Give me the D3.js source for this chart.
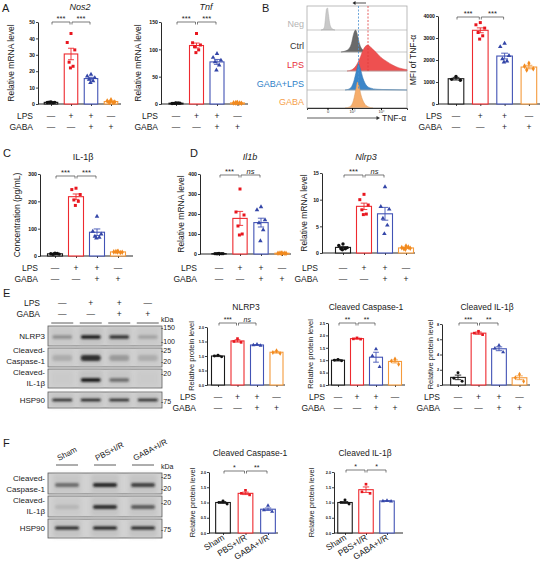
<!DOCTYPE html>
<html><head><meta charset="utf-8">
<script src="https://cdn.jsdelivr.net/npm/d3@7"></script>
<style>body{margin:0;background:#fff}svg{display:block}text{font-family:"Liberation Sans",Arial,sans-serif}</style>
</head><body><svg id="c" width="546" height="565"></svg>
<script>
// ---------------- DATA ----------------
const lpsRow = ["—","+","+","—"];
const gabaRow = ["—","—","+","+"];
const groupColors = ["#1a1a1a","#ee2a2f","#4253b5","#f59b3c"];
const pointColors = ["#111111","#e8161e","#3446a8","#f28a1e"];
const fGroups = ["Sham","PBS+I/R","GABA+I/R"];

const nos2Means = [1.0, 30.5, 15.5, 1.5];
const nos2Sem = [0.1, 3.5, 0.8, 0.3];
const nos2Pts = [[1.2,0.9,1.0,1.1,0.8,1.0],[43,37.5,33,25.5,23,22],[18,17,16,15,14,13],[2.5,1.8,1.2,1.0,0.9,1.5]];
const nos2Ticks = [0,10,20,30,40,50];

const tnfMeans = [1.5, 107, 77, 2];
const tnfSem = [0.3, 4.5, 4.5, 0.3];
const tnfPts = [[2,1,1.5,1.2,1.8,1.5],[129,112,108,105,99,94],[92,85,80,77,71,62],[2.5,2,1.5,2,1.8,2.2]];
const tnfTicks = [0,50,100,150];

const mfiMeans = [1150, 3350, 2180, 1680];
const mfiSem = [60, 110, 130, 80];
const mfiPts = [[1250,1120,1080],[3700,3600,3450,3250,3100,2950],[2750,2600,2200,2050,1950,1900],[1850,1720,1600,1550]];
const mfiTicks = [0,1000,2000,3000,4000];

const il1bConcMeans = [8, 217, 87, 15];
const il1bConcSem = [2, 10, 12, 1];
const il1bConcPts = [[10,8,7,6,9,8],[248,243,225,205,200,185],[145,90,80,72,68,65],[17,15,14,16,13,15]];
const il1bConcTicks = [0,100,200,300];

const il1bMeans = [2, 178, 157, 4];
const il1bSem = [0.5, 35, 22, 1];
const il1bPts = [[3,2,2,1,2,2],[325,210,195,140,100,95],[235,220,170,155,120,65],[5,4,3,5,4,3]];
const il1bTicks = [0,100,200,300,400];

const nlrp3Means = [1.05, 8.75, 7.35, 0.95];
const nlrp3Sem = [0.15, 0.6, 1.2, 0.1];
const nlrp3Pts = [[1.7,1.4,1.0,0.8,0.8,0.6],[11,10,9,8.1,7.3,7.2],[12.4,8.7,8.2,6.5,5.2,3.6],[1.3,1,0.9,0.8,1.1,0.7]];
const nlrp3Ticks = [0,5,10,15];

const eNlrpMeans = [1.0, 1.52, 1.38, 1.13];
const eNlrpSem = [0.02, 0.04, 0.01, 0.03];
const eNlrpPts = [[1.03,1.0,0.97],[1.6,1.5,1.47],[1.4,1.38,1.36],[1.18,1.12,1.09]];
const eNlrpTicks = [0,0.5,1,1.5,2];

const eCaspMeans = [1.0, 1.87, 1.12, 0.95];
const eCaspSem = [0.03, 0.02, 0.2, 0.06];
const eCaspPts = [[1.03,1.0,0.98],[1.9,1.86,1.85],[1.45,1.18,0.73],[1.05,0.97,0.84]];
const eCaspTicks = [0,0.5,1,1.5,2,2.5];

const eIl1bMeans = [1.0, 6.8, 4.75, 0.95];
const eIl1bSem = [0.3, 0.15, 0.25, 0.25];
const eIl1bPts = [[1.6,0.9,0.5],[7.05,6.8,6.6],[5.2,4.8,4.3],[1.4,0.95,0.5]];
const eIl1bTicks = [0,2,4,6,8];

const fCaspMeans = [1.0, 1.3, 0.78];
const fCaspSem = [0.03, 0.04, 0.04];
const fCaspPts = [[1.05,1.0,0.95],[1.4,1.3,1.25],[0.9,0.75,0.7]];
const fIl1bMeans = [1.0, 1.42, 1.05];
const fIl1bSem = [0.03, 0.09, 0.01];
const fIl1bPts = [[1.08,1.0,0.95],[1.6,1.35,1.3],[1.06,1.05,1.04]];
const fTicks = [0,0.5,1,1.5,2];

// western blot band intensities (0-1)
const eLanes = ["L1","L2","L3","L4"];
const eNlrpBand = [0.3, 0.95, 0.8, 0.2];
const eCaspBand = [0.15, 0.85, 0.25, 0.15];
const eIl1bBand = [0.0, 1.0, 0.5, 0.0];
const eHspBand = [0.9, 0.95, 0.9, 0.9];
const fLanes = ["L1","L2","L3"];
const fCaspBand = [0.5, 0.9, 0.75];
const fIl1bBand = [0.1, 0.85, 0.6];
const fHspBand = [0.9, 0.95, 0.9];

// flow histograms: [TNF-α display unit, relative count]
const histNames = ["Neg","Ctrl","LPS","GABA+LPS","GABA"];
const histColors = ["#c9c9c9","#6a6a6a","#ee5050","#3b86c9","#f6ad6b"];
const histLabelColors = ["#b5b5b5","#333333","#e8303a","#2f7fc8","#f5a04a"];
const histNeg = [[14,0],[16,0.03],[17.5,0.15],[18.5,0.55],[19.5,0.95],[20.5,1],[21.5,0.7],[22.5,0.35],[24,0.12],[26,0.03],[28,0]];
const histCtrl = [[34,0],[38,0.04],[42,0.15],[44.5,0.4],[46.5,0.8],[48.5,1],[50,0.85],[52,0.45],[54,0.2],[57,0.06],[62,0]];
const histLps = [[40,0],[45,0.05],[49,0.2],[53,0.5],[56,0.8],[59,0.97],[61,1],[64,0.9],[69,0.72],[74,0.52],[80,0.36],[86,0.22],[92,0.12],[100,0.05]];
const histGabaLps = [[38,0],[43,0.06],[46.5,0.3],[49.5,0.75],[51.5,1],[53.5,0.8],[56,0.45],[59,0.2],[63,0.08],[70,0.03],[80,0.015],[100,0]];
const histGaba = [[38,0],[43,0.05],[46.5,0.3],[49,0.75],[50.5,1],[52,0.85],[54,0.5],[57,0.2],[61,0.05],[66,0]];
const histTickLabels = ["0","10³","10⁴"];
const histTickUnits = [20.5, 45, 74];
const histMedians = [51.5, 61];

// ---------------- DRAWING ----------------
const svg = d3.select("#c");
const defs = svg.append("defs");
defs.append("filter").attr("id","blur").attr("x","-50%").attr("y","-100%").attr("width","200%").attr("height","300%")
  .append("feGaussianBlur").attr("stdDeviation",1.1);
defs.append("filter").attr("id","blur2").attr("x","-50%").attr("y","-100%").attr("width","200%").attr("height","300%")
  .append("feGaussianBlur").attr("stdDeviation",2.2);

function txt(g, x, y, s, o = {}) {
  const t = g.append("text").attr("x", x).attr("y", y).text(s)
    .attr("font-size", o.size || 9).attr("text-anchor", o.anchor || "start")
    .attr("fill", o.fill || "#1a1a1a");
  if (o.italic) t.attr("font-style", "italic");
  if (o.weight) t.attr("font-weight", o.weight);
  if (o.rotate != null) t.attr("transform", `rotate(${o.rotate},${x},${y})`);
  return t;
}

const symbols = [d3.symbolCircle, d3.symbolSquare, d3.symbolTriangle, d3.symbolDiamond];
const jitterPattern = [0, -1, 1, -0.5, 0.55, -0.15, 0.3];

function barChart(L, D) {
  const n = D.means.length;
  const y = d3.scaleLinear().domain([0, D.ticks[D.ticks.length - 1]]).range([L.y0, L.yTop]);
  const x = d3.scaleLinear().domain([0, n - 1]).range([L.c0, L.c0 + L.step * (n - 1)]);
  const g = svg.append("g");
  const ya = g.append("g").attr("transform", `translate(${L.ax},0)`)
    .call(d3.axisLeft(y).tickValues(D.ticks).tickFormat(D.fmt).tickSize(2).tickSizeOuter(0).tickPadding(1));
  ya.select(".domain").attr("stroke", "#111").attr("stroke-width", 0.9);
  ya.selectAll(".tick line").attr("stroke", "#111").attr("stroke-width", 0.8);
  ya.selectAll("text").attr("font-size", L.tick).attr("font-weight", "bold").attr("fill", "#111")
    .attr("font-family", "Liberation Sans, Arial, sans-serif");
  g.append("line").attr("x1", L.ax).attr("x2", L.axEnd).attr("y1", L.y0).attr("y2", L.y0).attr("stroke", "#111").attr("stroke-width", 0.9);
  const xa = g.append("g").attr("transform", `translate(0,${L.y0})`)
    .call(d3.axisBottom(x).tickValues(d3.range(n)).tickSize(2).tickFormat(""));
  xa.select(".domain").remove();
  xa.selectAll(".tick line").attr("stroke", "#111").attr("stroke-width", 0.8);
  // bars
  g.selectAll("rect.bar").data(D.means).join("rect").attr("class", "bar")
    .attr("x", (d, i) => x(i) - L.bw / 2).attr("y", d => y(d)).attr("width", L.bw)
    .attr("height", d => L.y0 - y(d)).attr("fill", "white")
    .attr("stroke", (d, i) => groupColors[i]).attr("stroke-width", 1.1);
  // error bars
  D.means.forEach((m, i) => {
    const s = D.sem[i], cw = L.bw * 0.22;
    const eg = g.append("g").attr("stroke", groupColors[i]).attr("stroke-width", 0.9);
    eg.append("line").attr("x1", x(i)).attr("x2", x(i)).attr("y1", y(m - s)).attr("y2", y(m + s));
    eg.append("line").attr("x1", x(i) - cw).attr("x2", x(i) + cw).attr("y1", y(m + s)).attr("y2", y(m + s));
    eg.append("line").attr("x1", x(i) - cw).attr("x2", x(i) + cw).attr("y1", y(m - s)).attr("y2", y(m - s));
  });
  // points
  D.pts.forEach((arr, i) => {
    arr.forEach((v, j) => {
      const dx = jitterPattern[j % jitterPattern.length] * L.bw * 0.28;
      g.append("path").attr("d", d3.symbol().type(symbols[i]).size(L.sym)())
        .attr("transform", `translate(${x(i) + dx},${y(v)})`).attr("fill", pointColors[i]);
    });
  });
  // significance
  (D.sig || []).forEach(([a, b, lab]) => {
    const x1 = x(a) + 1, x2 = x(b) - 1, by = L.by;
    g.append("path").attr("d", `M${x1},${by + 2.5}V${by}H${x2}V${by + 2.5}`)
      .attr("fill", "none").attr("stroke", "#444").attr("stroke-width", 0.7);
    txt(g, (x1 + x2) / 2, by - 1.2, lab, { size: L.star, anchor: "middle", italic: lab === "ns", fill: "#222" });
  });
  if (D.title) txt(g, L.tx, L.ty, D.title, { size: L.tsize, anchor: "middle", italic: D.italic });
  txt(g, L.ylx, (L.y0 + L.yTop) / 2, D.ylabel, { size: L.ysize, anchor: "middle", rotate: -90 });
  if (D.rows) {
    txt(g, L.rlx, L.r1, "LPS", { size: L.rsize, anchor: "end" });
    txt(g, L.rlx, L.r2, "GABA", { size: L.rsize, anchor: "end" });
    lpsRow.forEach((s, i) => txt(g, x(i), L.r1, s, { size: L.rsize, anchor: "middle" }));
    gabaRow.forEach((s, i) => txt(g, x(i), L.r2, s, { size: L.rsize, anchor: "middle" }));
  } else if (D.xcats) {
    D.xcats.forEach((s, i) => txt(g, x(i) + 2, L.y0 + 6, s, { size: L.rsize, anchor: "end", rotate: -32 }));
  }
}

const f1 = d3.format("d"), f2 = d3.format(".1f");

// Panel letters
[["A",2,12],["B",262,12],["C",3,157],["D",190,157],["E",3,297],["F",3,447]].forEach(([s,x,y]) => txt(svg, x, y, s, { size: 11 }));

const std = { tick: 5.2, sym: 9, star: 7.5, tsize: 9, ysize: 8.5, rsize: 8.5 };
barChart({ ...std, ax: 38, y0: 104, yTop: 22, c0: 51, step: 20, bw: 13.5, axEnd: 121, by: 22, tx: 80, ty: 10, ylx: 14, rlx: 33, r1: 119, r2: 130 },
  { means: nos2Means, sem: nos2Sem, pts: nos2Pts, ticks: nos2Ticks, fmt: f1, sig: [[0,1,"***"],[1,2,"***"]], title: "Nos2", italic: true, ylabel: "Relative mRNA level", rows: true });
barChart({ ...std, ax: 161, y0: 104, yTop: 22, c0: 176, step: 20.5, bw: 14, axEnd: 248, by: 22, tx: 206, ty: 10, ylx: 141, rlx: 158, r1: 119, r2: 130 },
  { means: tnfMeans, sem: tnfSem, pts: tnfPts, ticks: tnfTicks, fmt: f1, sig: [[0,1,"***"],[1,2,"***"]], title: "Tnf", italic: true, ylabel: "Relative mRNA level", rows: true });
barChart({ ...std, ax: 438, y0: 104, yTop: 16, c0: 456, step: 24.3, bw: 15.6, axEnd: 540, by: 17, ylx: 416, rlx: 442, r1: 119, r2: 130 },
  { means: mfiMeans, sem: mfiSem, pts: mfiPts, ticks: mfiTicks, fmt: f1, sig: [[0,1,"***"],[1,2,"***"]], ylabel: "MFI of TNF-α", rows: true });
barChart({ ...std, ax: 40, y0: 256, yTop: 174, c0: 55, step: 21, bw: 15, axEnd: 133, by: 176, tx: 83, ty: 160, ylx: 20, rlx: 38, r1: 271, r2: 282 },
  { means: il1bConcMeans, sem: il1bConcSem, pts: il1bConcPts, ticks: il1bConcTicks, fmt: f1, sig: [[0,1,"***"],[1,2,"***"]], title: "IL-1β", ylabel: "Concentration (pg/mL)", rows: true });
barChart({ ...std, ax: 200, y0: 254, yTop: 174, c0: 219, step: 21, bw: 14.3, axEnd: 291, by: 175, tx: 250, ty: 160, ylx: 184, rlx: 197, r1: 271, r2: 282 },
  { means: il1bMeans, sem: il1bSem, pts: il1bPts, ticks: il1bTicks, fmt: f1, sig: [[0,1,"***"],[1,2,"ns"]], title: "Il1b", italic: true, ylabel: "Relative mRNA level", rows: true });
barChart({ ...std, ax: 322, y0: 253, yTop: 173, c0: 343, step: 21, bw: 15, axEnd: 415, by: 175, tx: 366, ty: 160, ylx: 307, rlx: 318, r1: 271, r2: 282 },
  { means: nlrp3Means, sem: nlrp3Sem, pts: nlrp3Pts, ticks: nlrp3Ticks, fmt: f1, sig: [[0,1,"***"],[1,2,"ns"]], title: "Nlrp3", italic: true, ylabel: "Relative mRNA level", rows: true });

const sm = { tick: 3.8, sym: 7, star: 7, tsize: 8.5, ysize: 7.5, rsize: 8.5 };
barChart({ ...sm, ax: 207, y0: 385, yTop: 327, c0: 218, step: 19.5, bw: 13, axEnd: 285, by: 323, tx: 246, ty: 310, ylx: 194, rlx: 196, r1: 400, r2: 411 },
  { means: eNlrpMeans, sem: eNlrpSem, pts: eNlrpPts, ticks: eNlrpTicks, fmt: f2, sig: [[0,1,"***"],[1,2,"ns"]], title: "NLRP3", ylabel: "Relative protein level", rows: true });
barChart({ ...sm, ax: 328, y0: 385, yTop: 323, c0: 338, step: 19, bw: 13, axEnd: 405, by: 323, tx: 366, ty: 310, ylx: 313, rlx: 325, r1: 400, r2: 411 },
  { means: eCaspMeans, sem: eCaspSem, pts: eCaspPts, ticks: eCaspTicks, fmt: f2, sig: [[0,1,"**"],[1,2,"**"]], title: "Cleaved Caspase-1", ylabel: "Relative protein level", rows: true });
barChart({ ...sm, ax: 442, y0: 385, yTop: 324, c0: 458, step: 20.5, bw: 14.7, axEnd: 530, by: 323, tx: 487, ty: 310, ylx: 433, rlx: 440, r1: 400, r2: 411 },
  { means: eIl1bMeans, sem: eIl1bSem, pts: eIl1bPts, ticks: eIl1bTicks, fmt: f1, sig: [[0,1,"***"],[1,2,"**"]], title: "Cleaved IL-1β", ylabel: "Relative protein level", rows: true });
barChart({ ...sm, ax: 209, y0: 533, yTop: 472, c0: 223, step: 22.5, bw: 14.7, axEnd: 278, by: 471, tx: 250, ty: 456, ylx: 195, rsize: 8.5 },
  { means: fCaspMeans, sem: fCaspSem, pts: fCaspPts, ticks: fTicks, fmt: f2, sig: [[0,1,"*"],[1,2,"**"]], title: "Cleaved Caspase-1", ylabel: "Relative protein level", xcats: fGroups });
barChart({ ...sm, ax: 334, y0: 533, yTop: 472, c0: 345, step: 21, bw: 14.5, axEnd: 403, by: 470, tx: 365, ty: 456, ylx: 314, rsize: 8.5 },
  { means: fIl1bMeans, sem: fIl1bSem, pts: fIl1bPts, ticks: fTicks, fmt: f2, sig: [[0,1,"*"],[1,2,"*"]], title: "Cleaved IL-1β", ylabel: "Relative protein level", xcats: fGroups });

// ---------------- WESTERN BLOTS ----------------
function blotRow(g, lanes, x0, x1, yT, yB, bandY, intens, bw, bh) {
  const lx = d3.scalePoint().domain(lanes).range([x0, x1]).padding(0.5);
  g.append("rect").attr("x", x0).attr("y", yT).attr("width", x1 - x0).attr("height", yB - yT)
    .attr("fill", "#d2d2d2").attr("stroke", "#5a5a5a").attr("stroke-width", 0.8);
  lanes.forEach((ln, i) => {
    g.append("rect").attr("x", lx(ln) - bw / 2 - 2).attr("y", yT + 1).attr("width", bw + 4).attr("height", yB - yT - 2)
      .attr("fill", "#bdbdbd").attr("opacity", 0.35 + 0.4 * intens[i]).attr("filter", "url(#blur2)");
    g.append("rect").attr("x", lx(ln) - bw / 2).attr("y", bandY - bh / 2).attr("width", bw).attr("height", bh)
      .attr("rx", bh / 2).attr("fill", "#141414").attr("opacity", intens[i]).attr("filter", "url(#blur)");
  });
  return lx;
}
const eb = svg.append("g");
const eX0 = 48, eX1 = 162;
let elx = blotRow(eb, eLanes, eX0, eX1, 326, 346, 337, eNlrpBand, 20, 3.5);
blotRow(eb, eLanes, eX0, eX1, 348, 367, 358, eCaspBand, 20, 6);
blotRow(eb, eLanes, eX0, eX1, 369, 388, 380, eIl1bBand, 20, 3.5);
blotRow(eb, eLanes, eX0, eX1, 392, 408, 400, eHspBand, 20, 2.5);
txt(eb, 40, 306, "LPS", { size: 8.5, anchor: "end" });
txt(eb, 40, 317, "GABA", { size: 8.5, anchor: "end" });
eLanes.forEach((ln, i) => {
  txt(eb, elx(ln), 306, lpsRow[i], { size: 8.5, anchor: "middle" });
  txt(eb, elx(ln), 317, gabaRow[i], { size: 8.5, anchor: "middle" });
  eb.append("line").attr("x1", elx(ln) - 11).attr("x2", elx(ln) + 11).attr("y1", 323).attr("y2", 323).attr("stroke", "#333").attr("stroke-width", 0.8);
});
txt(eb, 45, 339, "NLRP3", { size: 8, anchor: "end" });
txt(eb, 45, 353, "Cleaved-", { size: 8, anchor: "end" });
txt(eb, 45, 364, "Caspase-1", { size: 8, anchor: "end" });
txt(eb, 45, 375, "Cleaved-", { size: 8, anchor: "end" });
txt(eb, 45, 386, "IL-1β", { size: 8, anchor: "end" });
txt(eb, 45, 403, "HSP90", { size: 8, anchor: "end" });
txt(eb, 161, 322, "kDa", { size: 7 });
[["-150",330],["-100",344],["-25",353],["-20",364],["-20",376],["-75",404]].forEach(([s, y]) => txt(eb, 161, y, s, { size: 7 }));

const fb = svg.append("g");
const fX0 = 48, fX1 = 162;
let flx = blotRow(fb, fLanes, fX0, fX1, 473, 494, 485, fCaspBand, 24, 4);
blotRow(fb, fLanes, fX0, fX1, 496, 517, 507, fIl1bBand, 24, 4);
blotRow(fb, fLanes, fX0, fX1, 519, 538, 528, fHspBand, 24, 3);
fLanes.forEach((ln, i) => {
  fb.append("line").attr("x1", flx(ln) - 11).attr("x2", flx(ln) + 11).attr("y1", 465).attr("y2", 465).attr("stroke", "#333").attr("stroke-width", 0.8);
  txt(fb, flx(ln) - 8, 461, fGroups[i], { size: 8, rotate: -28 });
});
txt(fb, 45, 481, "Cleaved-", { size: 8, anchor: "end" });
txt(fb, 45, 492, "Caspase-1", { size: 8, anchor: "end" });
txt(fb, 45, 503, "Cleaved-", { size: 8, anchor: "end" });
txt(fb, 45, 514, "IL-1β", { size: 8, anchor: "end" });
txt(fb, 45, 531, "HSP90", { size: 8, anchor: "end" });
txt(fb, 161, 469, "kDa", { size: 7 });
[["-25",479],["-20",491],["-20",505],["-75",532]].forEach(([s, y]) => txt(fb, 161, y, s, { size: 7 }));

// ---------------- FLOW HISTOGRAMS ----------------
const hg = svg.append("g");
const hx = d3.scaleLinear().domain([0, 100]).range([307, 407]);
const hBase = d3.scaleOrdinal().domain(histNames).range([30, 52, 71, 90, 108]);
const hHeights = [22, 22, 26, 26, 26];
const hData = [histNeg, histCtrl, histLps, histGabaLps, histGaba];
hg.append("rect").attr("x", 307).attr("y", 6).attr("width", 100).attr("height", 102).attr("fill", "white").attr("stroke", "#aaa").attr("stroke-width", 0.8);
histNames.forEach((nm, i) => {
  const b = hBase(nm);
  const area = d3.area().x(d => hx(d[0])).y0(b).y1(d => b - d[1] * hHeights[i]).curve(d3.curveMonotoneX);
  hg.append("path").datum(hData[i]).attr("d", area).attr("fill", histColors[i]).attr("stroke", d3.color(histColors[i]).darker(0.4)).attr("stroke-width", 0.5);
  hg.append("line").attr("x1", 307).attr("x2", 407).attr("y1", b).attr("y2", b).attr("stroke", "#b0b0b0").attr("stroke-width", 0.7);
  txt(hg, 304, b - 3, nm, { size: 9, anchor: "end", fill: histLabelColors[i] });
});
hg.append("line").attr("x1", hx(histMedians[0])).attr("x2", hx(histMedians[0])).attr("y1", 6).attr("y2", hBase("GABA+LPS")).attr("stroke", "#4a90d0").attr("stroke-dasharray", "2,1.5").attr("stroke-width", 0.8);
hg.append("line").attr("x1", hx(histMedians[1])).attr("x2", hx(histMedians[1])).attr("y1", 6).attr("y2", hBase("LPS")).attr("stroke", "#e03a3a").attr("stroke-dasharray", "2,1.5").attr("stroke-width", 0.8);
// arrow
hg.append("line").attr("x1", hx(histMedians[1]) - 2).attr("x2", hx(histMedians[0]) - 4).attr("y1", 3).attr("y2", 3).attr("stroke", "#222").attr("stroke-width", 0.8);
hg.append("path").attr("d", `M${hx(histMedians[0]) - 6},3l3,-2v4z`).attr("fill", "#222");
// x axis
const hxa = hg.append("g").attr("transform", "translate(0,108)").call(d3.axisBottom(hx).tickValues(histTickUnits).tickFormat((d, i) => histTickLabels[i]).tickSize(2).tickPadding(0.5));
hxa.select(".domain").attr("stroke", "#333");
hxa.selectAll("text").attr("font-size", 4).attr("fill", "#333");
hg.append("line").attr("x1", 307).attr("x2", 377).attr("y1", 118).attr("y2", 118).attr("stroke", "#333").attr("stroke-width", 0.8);
hg.append("path").attr("d", "M380,118l-3.5,-2v4z").attr("fill", "#333");
txt(hg, 382, 121, "TNF-α", { size: 8.5 });
</script></body></html>
